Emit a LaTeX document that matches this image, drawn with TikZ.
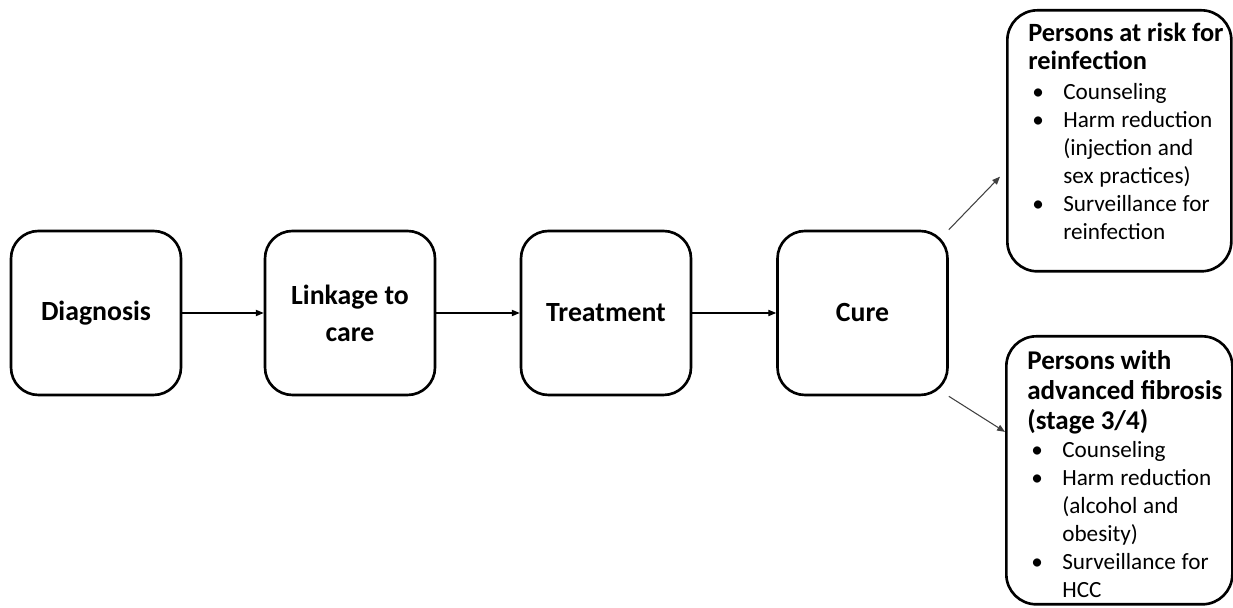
\documentclass[tikz,border=0pt]{standalone}
\usepackage{fontspec}
\setmainfont{Carlito}
\usetikzlibrary{positioning,arrows.meta,calc}

\newcommand{\bitem}[1]{\mbox{\hspace*{0.08cm}\makebox[0.62cm][l]{\textbullet}#1}}
\newcommand{\bcont}[1]{\mbox{\hspace*{0.7cm}#1}}

\begin{document}
\begin{tikzpicture}[
        stage/.style={draw, line width=1.5pt, rounded corners=0.55cm, minimum width=3.4cm, minimum height=3.28cm, align=center, font=\fontsize{15.8}{21}\selectfont\bfseries},
        group/.style={draw, line width=1.5pt, rounded corners=0.6cm, anchor=north west, align=left, inner xsep=0.42cm, inner ysep=0.1cm},
        flow/.style={-{Triangle[length=4.5pt,width=3.6pt]}, line width=0.6pt},
        branch/.style={flow, draw=black!75}
    ]
        \useasboundingbox (0,0) rectangle (24.66,12.16);

        % Stages of care
        \node[stage] (diag) at (1.92, 5.9) {Diagnosis};
        \node[stage] (link) at (7.0, 5.9) {Linkage to\\care};
        \node[stage] (treat) at (12.12, 5.9) {Treatment};
        \node[stage] (cure) at (17.25, 5.9) {Cure};

        \draw[flow] (diag) -- (link);
        \draw[flow] (link) -- (treat);
        \draw[flow] (treat) -- (cure);

        % Follow-up after cure
        \node[group, text width=3.64cm, text height=0.52cm, text depth=4.5cm] (risk) at (20.12, 11.98) {
            {\fontsize{15}{15.9}\selectfont\bfseries \mbox{Persons at risk for}\\reinfection\par}
            \vspace{0.04cm}
            {\fontsize{13.2}{16}\selectfont
            \bitem{Counseling}\\
            \bitem{Harm reduction}\\
            \bcont{(injection and}\\
            \bcont{sex practices)}\\
            \bitem{Surveillance for}\\
            \bcont{reinfection}\par}
        };
        \node[group, text width=3.68cm, text height=0.56cm, text depth=4.6cm] (fib) at (20.1, 5.46) {
            {\fontsize{15.4}{17}\selectfont\bfseries Persons with\\\mbox{advanced fibrosis}\\(stage 3/4)\par}
            {\fontsize{13.2}{16}\selectfont
            \bitem{Counseling}\\
            \bitem{Harm reduction}\\
            \bcont{(alcohol and}\\
            \bcont{obesity)}\\
            \bitem{Surveillance for}\\
            \bcont{HCC}\par}
        };

        \draw[branch] (cure.north east) -- ($(risk.south west)!0.364!(risk.north west)+(-0.12,0)$);
        \draw[branch] (cure.south east) -- ($(fib.south west)!0.642!(fib.north west)$);
    \end{tikzpicture}
\end{document}
